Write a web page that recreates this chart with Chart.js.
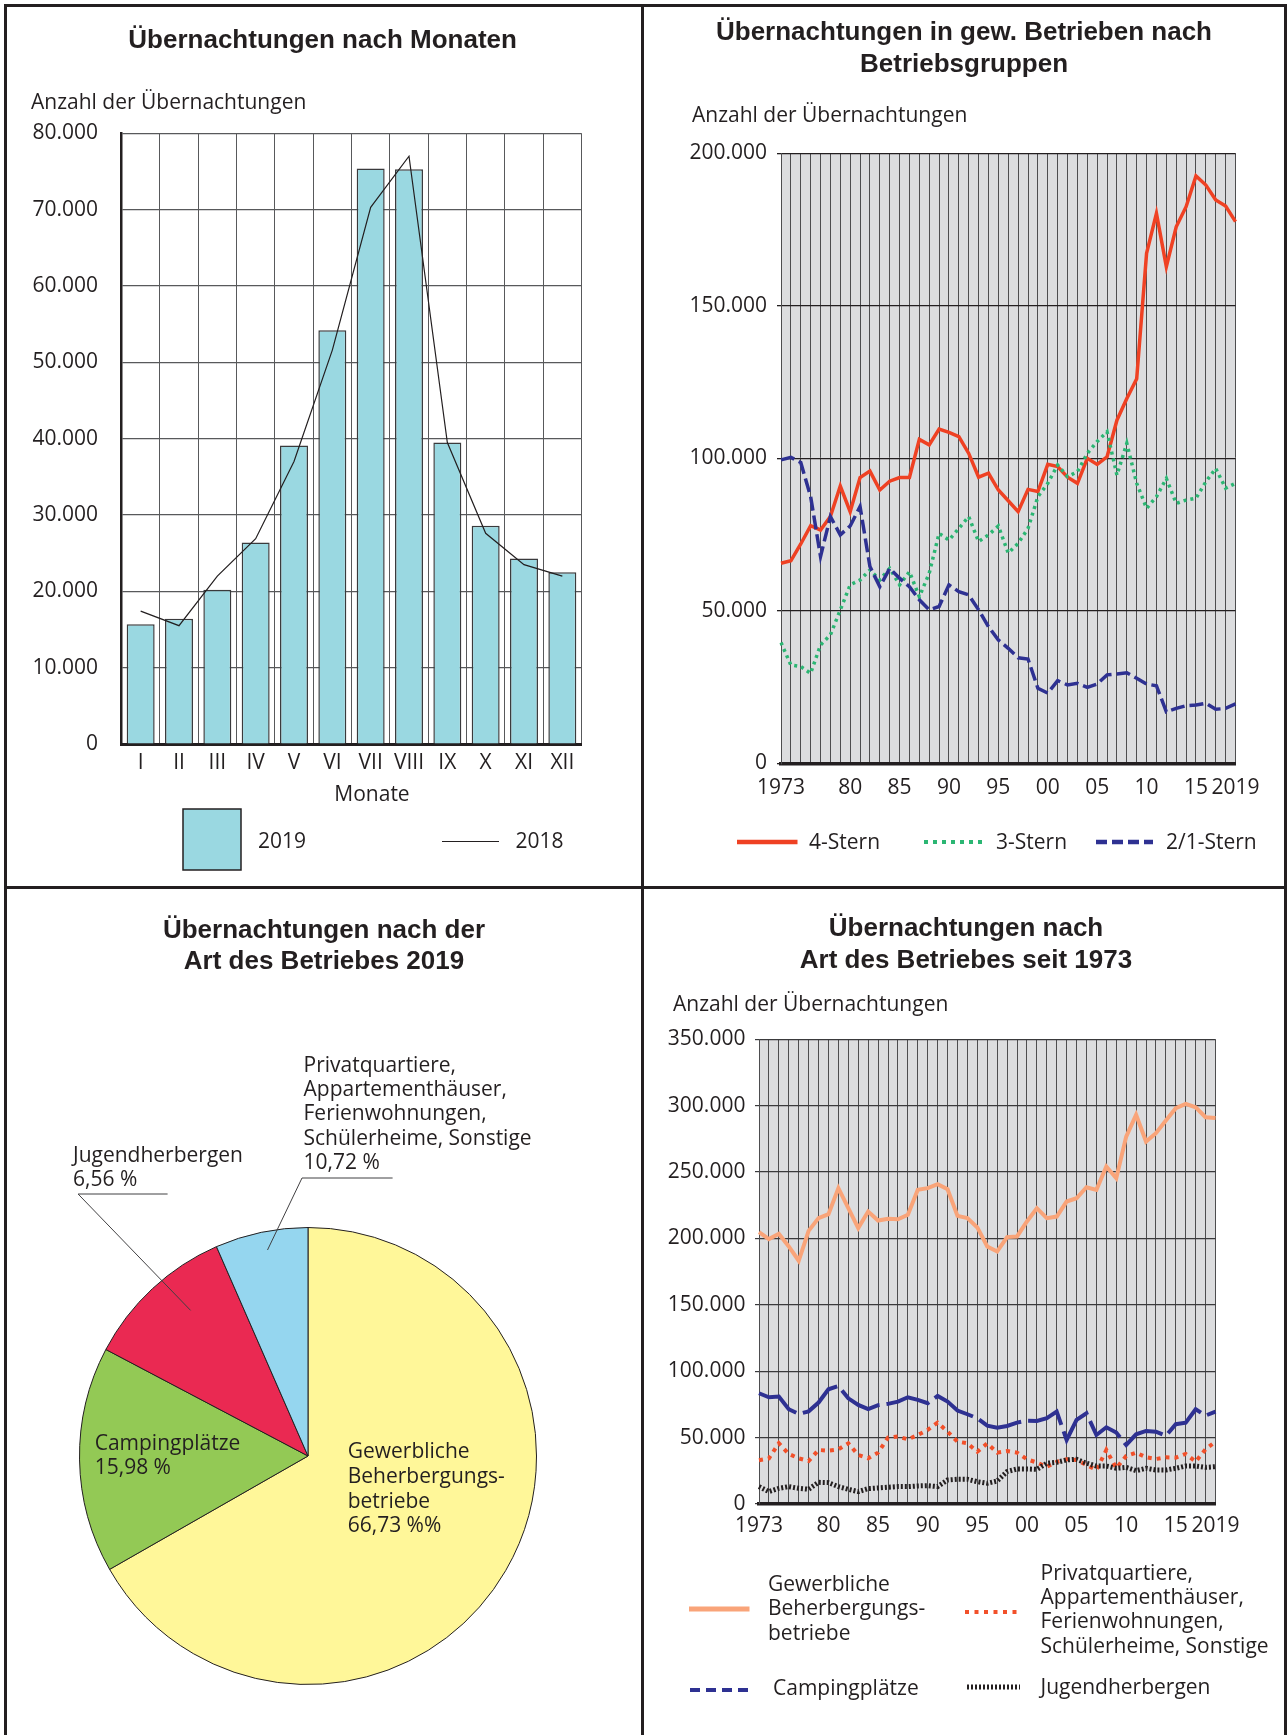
<!DOCTYPE html>
<html lang="de">
<head>
<meta charset="utf-8">
<title>Übernachtungen</title>
<script src="https://cdn.jsdelivr.net/npm/chart.js@4.4.1/dist/chart.umd.min.js"></script>
<style>
  body { margin: 0; background: #fff; }
  #page { position: relative; width: 1288px; height: 1735px; overflow: hidden; background: #fff;
          font-family: 'Open Sans', sans-serif; color: #231f20; }
  canvas { position: absolute; }
  .t { position: absolute; white-space: nowrap; font-size: 21px; line-height: 24px; transform: translate(0, -50%); }
  .c { transform: translate(-50%, -50%); }
  .h { font-family: 'Liberation Sans', Arial, sans-serif; font-weight: bold; font-size: 26px; line-height: 30px; }
  .rule { position: absolute; background: #231f20; }
  svg { position: absolute; left: 0; top: 0; }
</style>
</head>
<body>
<div id="page">
  <canvas id="monatChart" width="643" height="887" style="left:0;top:0"></canvas>
  <canvas id="sternChart" width="645" height="887" style="left:643px;top:0"></canvas>
  <canvas id="artPie" width="643" height="848" style="left:0;top:887px"></canvas>
  <canvas id="artChart" width="645" height="848" style="left:643px;top:887px"></canvas>
  <svg id="overlay" width="1288" height="1735"></svg>
</div>
<script>
// ---- data ----
const monate = ['I', 'II', 'III', 'IV', 'V', 'VI', 'VII', 'VIII', 'IX', 'X', 'XI', 'XII'];
const werte2019 = [15700, 16400, 20200, 26400, 39100, 54200, 75400, 75300, 39500, 28600, 24300, 22500];
const werte2018 = [17400, 15500, 22000, 26900, 37000, 51600, 70300, 77000, 39500, 27600, 23500, 22000];

const jahre = [1973, 1974, 1975, 1976, 1977, 1978, 1979, 1980, 1981, 1982,
               1983, 1984, 1985, 1986, 1987, 1988, 1989, 1990, 1991, 1992,
               1993, 1994, 1995, 1996, 1997, 1998, 1999, 2000, 2001, 2002,
               2003, 2004, 2005, 2006, 2007, 2008, 2009, 2010, 2011, 2012,
               2013, 2014, 2015, 2016, 2017, 2018, 2019];
const tickJahre = [1973, 1980, 1985, 1990, 1995, 2000, 2005, 2010, 2015, 2019];
const tickTexte = ['1973', '80', '85', '90', '95', '00', '05', '10', '15', '2019'];

const vierStern = [65600, 66400, 71900, 77900, 76500, 80900, 90900, 82500, 93700, 95800,
                   89600, 92500, 93700, 93700, 106200, 104400, 109600, 108500, 107100, 101600,
                   93800, 95100, 89600, 86100, 82500, 89800, 89100, 98000, 97300, 93800,
                   91800, 100000, 98000, 100500, 112500, 119600, 126100, 167200, 180300, 162800,
                   175900, 182500, 192600, 189600, 184700, 182700, 177600];
const dreiStern = [39600, 32200, 31700, 29500, 38800, 42100, 50300, 58500, 60100, 63400,
                   60100, 63900, 58500, 62800, 54600, 62300, 75400, 73200, 77000, 80900,
                   72700, 74900, 77800, 68900, 72100, 77000, 87400, 91800, 97800, 94000,
                   95600, 101600, 105500, 108700, 94500, 104900, 91800, 83600, 87400, 93400,
                   85200, 86300, 86900, 92300, 96700, 90200, 91800];
const zweiEinStern = [99500, 100300, 98600, 87400, 67800, 80900, 74900, 77800, 84200, 64500,
                      57900, 63900, 60700, 57900, 53600, 50300, 51400, 58500, 56300, 55200,
                      50300, 44800, 40400, 37700, 34600, 34200, 24600, 23000, 27100, 25700,
                      26200, 24900, 26000, 29000, 29300, 29700, 27900, 26000, 25400, 16900,
                      18000, 18900, 19100, 19700, 17700, 18000, 19500];

const artNamen = ['Gewerbliche Beherbergungsbetriebe', 'Campingplätze', 'Jugendherbergen',
                  'Privatquartiere, Appartementhäuser, Ferienwohnungen, Schülerheime, Sonstige'];
const artAnteile = [66.73, 15.98, 10.72, 6.56];

const gewerblich = [204700, 199500, 203500, 194000, 183200, 205700, 215300, 218300, 237900, 222800,
                    207800, 220300, 213500, 214800, 214500, 217800, 236600, 237900, 240900, 237100,
                    217000, 215300, 208300, 194000, 190200, 201000, 201500, 212800, 222800, 215300,
                    216500, 227800, 230300, 238600, 236600, 254200, 245400, 276700, 293100, 273000,
                    279300, 288800, 298100, 301300, 298800, 291300, 290800];
const privat = [33000, 34400, 45700, 37700, 34400, 32400, 40700, 40200, 41200, 45700,
                36900, 34400, 38700, 50000, 50800, 48700, 52000, 55800, 61300, 54500,
                47000, 45700, 39400, 45700, 38700, 39900, 38700, 33700, 31200, 28100,
                31700, 33700, 33200, 29400, 25600, 40700, 26900, 36200, 38700, 35200,
                33900, 35200, 34900, 37700, 31900, 41200, 47000];
const camping = [83400, 80400, 80900, 71400, 67800, 69800, 76400, 86400, 88900, 79600,
                 74600, 71400, 74400, 75400, 77100, 80400, 78400, 75900, 81400, 77100,
                 70400, 67600, 64600, 59000, 57500, 58800, 61300, 62800, 62600, 64600,
                 69600, 48200, 63300, 68300, 52000, 57800, 53800, 44500, 52500, 55000,
                 54500, 51300, 60100, 61300, 71400, 66600, 69600];
const jugend = [13100, 9300, 11800, 13100, 11800, 11100, 16300, 16100, 13100, 11100,
                9300, 11600, 12100, 12600, 13100, 13100, 13600, 13800, 13100, 18100,
                18600, 18600, 16800, 15600, 17300, 24400, 26400, 26400, 26100, 30700,
                31400, 33200, 33700, 30700, 28600, 28600, 26900, 27600, 25100, 26900,
                25600, 25600, 26900, 28600, 28600, 27600, 28100];

// ---- colours ----
const ink = '#231f20';
const pieFarben = ['#fff799', '#93c955', '#ea2952', '#95d6ef'];

Chart.defaults.font.family = "'Open Sans', sans-serif";
Chart.defaults.font.size = 21;
Chart.defaults.color = ink;

function tausend(v) {
    return String(v).replace(/\B(?=(\d{3})+(?!\d))/g, '.');
}

function jahrTick(value, index) {
    const k = tickJahre.indexOf(jahre[index]);
    return k >= 0 ? tickTexte[k] : '';
}

const plotBg = {
    id: 'plotBg',
    beforeDraw(chart, args, opts) {
        if (!opts.color) return;
        const a = chart.chartArea;
        const ctx = chart.ctx;
        ctx.save();
        ctx.fillStyle = opts.color;
        ctx.fillRect(a.left, a.top, a.right - a.left, a.bottom - a.top);
        ctx.restore();
    }
};

const quiet = { legend: { display: false }, tooltip: { enabled: false } };

// Panel 1: Übernachtungen nach Monaten
new Chart(document.getElementById('monatChart'), {
    type: 'bar',
    data: {
        labels: monate,
        datasets: [{
            label: '2018',
            type: 'line',
            data: werte2018,
            borderColor: ink,
            borderWidth: 1.2,
            pointRadius: 0,
            tension: 0,
            order: 0
        }, {
            label: '2019',
            data: werte2019,
            backgroundColor: '#9ad8e1',
            borderColor: '#3a3a3c',
            borderWidth: 1.5,
            barPercentage: 0.73,
            categoryPercentage: 1,
            order: 1
        }]
    },
    options: {
        responsive: false,
        animation: false,
        layout: { padding: { left: 0, top: 133.3, right: 61.5, bottom: 0 } },
        plugins: quiet,
        scales: {
            x: {
                afterFit: s => { s.height = 143; },
                grid: { offset: true, color: '#58595b', lineWidth: 1, drawTicks: false },
                border: { color: ink, width: 3 },
                ticks: { padding: 6, maxRotation: 0, autoSkip: false }
            },
            y: {
                min: 0, max: 80000,
                afterFit: s => { s.width = 121.5; },
                grid: { color: '#58595b', lineWidth: 1.2, drawTicks: false },
                border: { color: ink, width: 2.5 },
                ticks: { stepSize: 10000, padding: 23.5, callback: tausend }
            }
        }
    }
});

// Panel 2: Betriebsgruppen
new Chart(document.getElementById('sternChart'), {
    type: 'line',
    data: {
        labels: jahre,
        datasets: [{
            label: '2/1-Stern', data: zweiEinStern, borderColor: '#2e3192',
            borderWidth: 3.5, borderDash: [14, 5], pointRadius: 0, tension: 0
        }, {
            label: '3-Stern', data: dreiStern, borderColor: '#2bb673',
            borderWidth: 3.5, borderDash: [3, 4], pointRadius: 0, tension: 0
        }, {
            label: '4-Stern', data: vierStern, borderColor: '#ef4123',
            borderWidth: 3.5, pointRadius: 0, tension: 0
        }]
    },
    plugins: [plotBg],
    options: {
        responsive: false,
        animation: false,
        layout: { padding: { left: 0, top: 153.3, right: 52.5, bottom: 0 } },
        plugins: Object.assign({ plotBg: { color: '#dcdddf' } }, quiet),
        scales: {
            x: {
                offset: false,
                afterFit: s => { s.height = 123.7; },
                grid: { color: '#4d4d4f', lineWidth: 1, drawTicks: false },
                border: { color: ink, width: 3.5 },
                ticks: { padding: 12, maxRotation: 0, minRotation: 0, autoSkip: false, callback: jahrTick }
            },
            y: {
                min: 0, max: 200000,
                afterFit: s => { s.width = 138; },
                grid: { color: ink, lineWidth: 1.3, tickLength: 4 },
                border: { color: '#4d4d4f', width: 1 },
                ticks: { stepSize: 50000, padding: 10, callback: tausend }
            }
        }
    }
});

// Panel 3: Art des Betriebes 2019
new Chart(document.getElementById('artPie'), {
    type: 'pie',
    data: {
        labels: artNamen,
        datasets: [{ data: artAnteile, backgroundColor: pieFarben, borderColor: ink, borderWidth: 1 }]
    },
    options: {
        responsive: false,
        animation: false,
        layout: { padding: { left: 79, top: 340, right: 106, bottom: 50 } },
        plugins: quiet
    }
});

// Panel 4: Art des Betriebes seit 1973
new Chart(document.getElementById('artChart'), {
    type: 'line',
    data: {
        labels: jahre,
        datasets: [{
            label: 'Jugendherbergen', data: jugend, borderColor: ink,
            borderWidth: 5, borderDash: [2, 2], pointRadius: 0, tension: 0
        }, {
            label: 'Privatquartiere', data: privat, borderColor: '#f2502a',
            borderWidth: 4, borderDash: [4, 5], pointRadius: 0, tension: 0
        }, {
            label: 'Campingplätze', data: camping, borderColor: '#2e3192',
            borderWidth: 4, borderDash: [45, 7], pointRadius: 0, tension: 0
        }, {
            label: 'Gewerbliche Beherbergungsbetriebe', data: gewerblich, borderColor: '#f9a479',
            borderWidth: 4, pointRadius: 0, tension: 0
        }]
    },
    plugins: [plotBg],
    options: {
        responsive: false,
        animation: false,
        layout: { padding: { left: 0, top: 152.3, right: 72.5, bottom: 0 } },
        plugins: Object.assign({ plotBg: { color: '#dcdddf' } }, quiet),
        scales: {
            x: {
                offset: false,
                afterFit: s => { s.height = 231; },
                grid: { color: '#4d4d4f', lineWidth: 1, drawTicks: false },
                border: { color: ink, width: 3.5 },
                ticks: { padding: 9.5, maxRotation: 0, minRotation: 0, autoSkip: false, callback: jahrTick }
            },
            y: {
                min: 0, max: 350000,
                afterFit: s => { s.width = 116; },
                grid: { color: '#3a3a3c', lineWidth: 1.2, tickLength: 4 },
                border: { color: '#4d4d4f', width: 1 },
                ticks: { stepSize: 50000, padding: 9.6, callback: tausend }
            }
        }
    }
});

// ---- frame, texts, legends ----
const page = document.getElementById('page');
const svg = document.getElementById('overlay');

function rule(x, y, w, h) {
    const d = document.createElement('div');
    d.className = 'rule';
    d.style.cssText = `left:${x}px;top:${y}px;width:${w}px;height:${h}px`;
    page.appendChild(d);
}
rule(3.5, 3.5, 1283, 3);
rule(3.5, 3.5, 3, 1740);
rule(1283.5, 3.5, 3, 1740);
rule(641.2, 3.5, 3, 1740);
rule(3.5, 886.2, 1283, 3);

function text(str, x, y, cls) {
    const d = document.createElement('div');
    d.className = 't' + (cls ? ' ' + cls : '');
    d.textContent = str;
    d.style.left = x + 'px';
    d.style.top = y + 'px';
    page.appendChild(d);
}
function lines(arr, x, y0, step, cls) {
    arr.forEach((s, i) => text(s, x, y0 + i * step, cls));
}
function svgEl(tag, attrs) {
    const e = document.createElementNS('http://www.w3.org/2000/svg', tag);
    for (const k in attrs) e.setAttribute(k, attrs[k]);
    svg.appendChild(e);
}
function seg(x1, y1, x2, y2, color, w, dash) {
    svgEl('line', { x1, y1, x2, y2, stroke: color, 'stroke-width': w, 'stroke-dasharray': dash || 'none' });
}

// panel 1
text('Übernachtungen nach Monaten', 322.6, 39, 'c h');
text('Anzahl der Übernachtungen', 31, 101);
text('Monate', 372, 793, 'c');
svgEl('rect', { x: 183, y: 809, width: 58, height: 61, fill: '#9ad8e1', stroke: ink, 'stroke-width': 1.5 });
text('2019', 258, 840);
seg(442, 841.5, 499, 841.5, ink, 1.2);
text('2018', 515.6, 840);

// panel 2
text('Übernachtungen in gew. Betrieben nach', 964, 30.7, 'c h');
text('Betriebsgruppen', 964, 63.3, 'c h');
text('Anzahl der Übernachtungen', 692, 114);
seg(737, 842, 797.5, 842, '#ef4123', 4.5);
text('4-Stern', 809, 841);
seg(924, 842, 983, 842, '#2bb673', 4, '4 5');
text('3-Stern', 996, 841);
seg(1096, 842, 1153, 842, '#2e3192', 4.5, '11 5');
text('2/1-Stern', 1166, 841);

// panel 3
text('Übernachtungen nach der', 324, 928.5, 'c h');
text('Art des Betriebes 2019', 324, 960, 'c h');
lines(['Privatquartiere,', 'Appartementhäuser,', 'Ferienwohnungen,', 'Schülerheime, Sonstige', '10,72 %'], 303.5, 1064, 24.2);
lines(['Jugendherbergen', '6,56 %'], 73, 1154, 24.4);
lines(['Campingplätze', '15,98 %'], 94.7, 1442, 24.4);
lines(['Gewerbliche', 'Beherbergungs-', 'betriebe', '66,73 %%'], 347.7, 1450, 24.8);
seg(78.1, 1194, 167.6, 1194, '#414042', 1);
seg(78.1, 1194, 190.6, 1310.4, '#414042', 1);
seg(302, 1178, 392.6, 1178, '#414042', 1);
seg(302, 1178, 267.5, 1250, '#414042', 1);

// panel 4
text('Übernachtungen nach', 966, 927, 'c h');
text('Art des Betriebes seit 1973', 966, 959, 'c h');
text('Anzahl der Übernachtungen', 673, 1002.5);
seg(689, 1609, 749.5, 1609, '#f9a479', 5);
lines(['Gewerbliche', 'Beherbergungs-', 'betriebe'], 768, 1583, 24.3);
seg(965, 1612, 1022, 1612, '#f2502a', 4, '4 5.5');
lines(['Privatquartiere,', 'Appartementhäuser,', 'Ferienwohnungen,', 'Schülerheime, Sonstige'], 1040.5, 1572, 24.2);
seg(690, 1690, 749.5, 1690, '#2e3192', 4, '10 6');
text('Campingplätze', 773, 1687);
seg(967, 1687, 1020, 1687, ink, 5, '2 2');
text('Jugendherbergen', 1040.5, 1686);
</script>
</body>
</html>
